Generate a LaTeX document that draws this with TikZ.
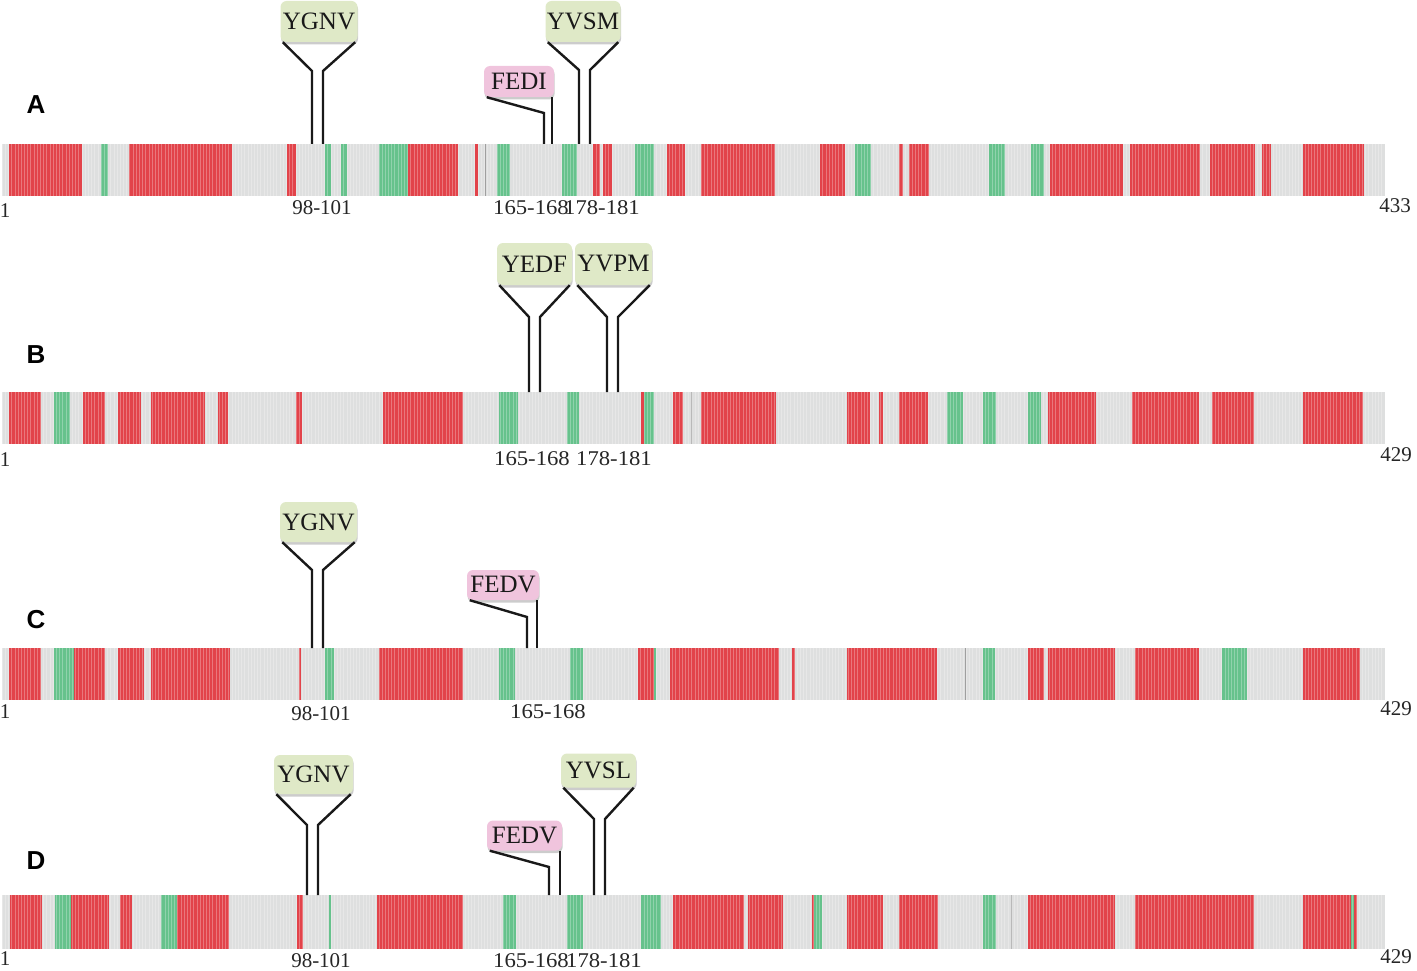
\documentclass[tikz,border=0pt]{standalone}
\usepackage{fontspec}
\usepackage{graphicx}
\setmainfont{Liberation Serif}
\newfontfamily\labsans{Liberation Sans}
\usetikzlibrary{shadows}
\definecolor{segred}{HTML}{E2434A}
\definecolor{seggreen}{HTML}{66C28C}
\definecolor{seggray}{HTML}{DEDFDF}
\definecolor{boxgreen}{HTML}{DFE9C7}
\definecolor{boxpink}{HTML}{F0C4DD}
\tikzset{
 barbox/.style={draw=none, fill=seggray, inner sep=0, minimum width=1383pt},
 motif/.style={rounded corners=6pt, inner sep=0, font=\fontsize{25}{25}\selectfont, text=black!90,
   drop shadow={opacity=0.4, shadow xshift=0.6pt, shadow yshift=-2.5pt}},
 gmotif/.style={motif, fill=boxgreen},
 pmotif/.style={motif, fill=boxpink},
 pinline/.style={draw=black!90, line width=2.4pt},
 poslab/.style={font=\fontsize{21}{21}\selectfont, inner sep=0, text=black!85},
 panellab/.style={font=\labsans\bfseries\fontsize{26}{26}\selectfont, inner sep=0},
 stripe/.style={white, opacity=.28, line width=.5pt},
 darkline/.style={gray!75, line width=1pt},
}
\newcommand\ypin[5]{%
 \coordinate (#1-bl) at (#2,#4); \coordinate (#1-br) at (#3,#4);
 \coordinate (#1-el) at (#2,#5); \coordinate (#1-er) at (#3,#5);
 \draw[pinline] ([xshift=2.5pt]#1.south west) -- (#1-bl) -- (#1-el);
 \draw[pinline] ([xshift=-2.5pt]#1.south east) -- (#1-br) -- (#1-er);}
\newcommand\kpin[4]{%
 \coordinate (#1-bl) at (#2,#3); \coordinate (#1-el) at (#2,#4);
 \draw[pinline] ([xshift=3pt]#1.south west) -- (#1-bl) -- (#1-el);
 \coordinate (#1-rs) at ([xshift=-2.5pt]#1.south east);
 \coordinate (#1-er) at (#1-rs |- #1-el);
 \draw[pinline] (#1-rs) -- (#1-er);}
\begin{document}
\begin{tikzpicture}[x=1pt,y=-1pt]
\useasboundingbox (0,0) rectangle (1417,971);
% ---------- bars ----------
\node[barbox, minimum height=52pt] (barA) at (693.5,170) {};
\node[barbox, minimum height=52pt] (barB) at (693.5,418) {};
\node[barbox, minimum height=52pt] (barC) at (693.5,674) {};
\node[barbox, minimum height=54pt] (barD) at (693.5,922) {};
% row A
\foreach \a/\b in {9/82,129/232,287/296,408/458,475/478,593/600,603/612,667/685,701/775,820/845,899/903,909/929,1050/1123,1130/1200,1210/1255,1262/1271,1303/1364}
  \fill[segred] (\a,144) rectangle (\b,196);
\foreach \a/\b in {101/108,325/331,341/347,379/408,497/510,562/577,635/654,855/871,989/1005,1031/1044}
  \fill[seggreen] (\a,144) rectangle (\b,196);
\draw[darkline] (485,144) -- (485,196);
% row B
\foreach \a/\b in {9/41,83/105,118/141,151/205,218/228,296/302,383/463,641/644,673/683,701/776,847/870,879/883,899/928,1048/1096,1132/1199,1212/1254,1303/1363}
  \fill[segred] (\a,392) rectangle (\b,444);
\foreach \a/\b in {54/70,499/518,567/579,644/654,947/963,983/996,1028/1041}
  \fill[seggreen] (\a,392) rectangle (\b,444);
\draw[darkline] (691,392) -- (691,444);
% row C
\foreach \a/\b in {9/41,74/105,118/144,151/230,299/301,379/463,638/654,670/779,792/795,847/937,1028/1044,1048/1115,1135/1199,1303/1360}
  \fill[segred] (\a,648) rectangle (\b,700);
\foreach \a/\b in {54/74,325/334,499/515,570/583,654/656,983/995,1222/1247}
  \fill[seggreen] (\a,648) rectangle (\b,700);
\draw[darkline] (965,648) -- (965,700);
% row D
\foreach \a/\b in {10/42,71/109,120/132,177/229,297/303,377/463,673/744,748/783,812/814,847/883,899/938,1028/1115,1135/1254,1303/1351,1354/1357}
  \fill[segred] (\a,895) rectangle (\b,949);
\foreach \a/\b in {55/71,161/177,329/331,503/516,567/583,641/661,814/822,983/996,1351/1354}
  \fill[seggreen] (\a,895) rectangle (\b,949);
\draw[darkline] (1011,895) -- (1011,949);
% residue stripes
\foreach \i in {0,...,432}{
  \draw[stripe] ({2+3.193*\i},144) -- ++(0,52);
  \draw[stripe] ({2+3.193*\i},392) -- ++(0,52);
  \draw[stripe] ({2+3.193*\i},648) -- ++(0,52);
  \draw[stripe] ({2+3.193*\i},895) -- ++(0,54);
}
% ---------- panel letters ----------
\node[panellab] (labA) at (36,105) {A};
\node[panellab] (labB) at (36,355) {B};
\node[panellab] (labC) at (36,620) {C};
\node[panellab] (labD) at (36,861) {D};
% ---------- ends ----------
\node[poslab] (sA) at (5,211) {1};
\node[poslab] (eA) at (1395,206) {433};
\node[poslab] (sB) at (5,460) {1};
\node[poslab] (eB) at (1396,455) {429};
\node[poslab] (sC) at (5,712) {1};
\node[poslab] (eC) at (1396,709) {429};
\node[poslab] (sD) at (5,959) {1};
\node[poslab] (eD) at (1396,957) {429};
% ---------- position labels ----------
\node[poslab] (pA1) at (322,208) {98-101};
\node[poslab] (pA2) at (531,208) {\scalebox{1.08}[1]{165-168}};
\node[poslab] (pA3) at (602,208) {\scalebox{1.08}[1]{178-181}};
\node[poslab] (pB2) at (532,459) {\scalebox{1.08}[1]{165-168}};
\node[poslab] (pB3) at (614,459) {\scalebox{1.08}[1]{178-181}};
\node[poslab] (pC1) at (321,714) {98-101};
\node[poslab] (pC2) at (548,712) {\scalebox{1.08}[1]{165-168}};
\node[poslab] (pD1) at (321,961) {98-101};
\node[poslab] (pD2) at (531,961) {\scalebox{1.08}[1]{165-168}};
\node[poslab] (pD3) at (604,961) {\scalebox{1.08}[1]{178-181}};
% ---------- motif boxes ----------
\node[gmotif, minimum width=77pt, minimum height=41pt] (mA1) at (319,21.5) {YGNV};
\node[gmotif, minimum width=75pt, minimum height=41pt] (mA3) at (583,21.5) {YVSM};
\node[pmotif, minimum width=70pt, minimum height=31pt] (mA2) at (519,81.5) {FEDI};
\node[gmotif, minimum width=75pt, minimum height=42pt] (mB1) at (534.5,264) {YEDF};
\node[gmotif, minimum width=77pt, minimum height=42pt] (mB2) at (613.5,264) {YVPM};
\node[gmotif, minimum width=77pt, minimum height=40pt] (mC1) at (318.5,522) {YGNV};
\node[pmotif, minimum width=72pt, minimum height=30pt] (mC2) at (503,585) {FEDV};
\node[gmotif, minimum width=79pt, minimum height=39pt] (mD1) at (313.5,774.5) {YGNV};
\node[gmotif, minimum width=75pt, minimum height=34pt] (mD3) at (598.5,770.5) {YVSL};
\node[pmotif, minimum width=75pt, minimum height=30pt] (mD2) at (524.5,835.5) {FEDV};
% ---------- pins ----------
\ypin{mA1}{312}{323}{71}{144}
\ypin{mA3}{579}{590}{70}{144}
\kpin{mA2}{544}{113}{144}
\ypin{mB1}{529}{540}{317}{392}
\ypin{mB2}{607}{618}{317}{392}
\ypin{mC1}{312}{323}{570}{648}
\kpin{mC2}{527}{617}{648}
\ypin{mD1}{307}{318}{825}{895}
\ypin{mD3}{594}{605}{819}{895}
\kpin{mD2}{549}{867}{895}
\end{tikzpicture}
\end{document}
